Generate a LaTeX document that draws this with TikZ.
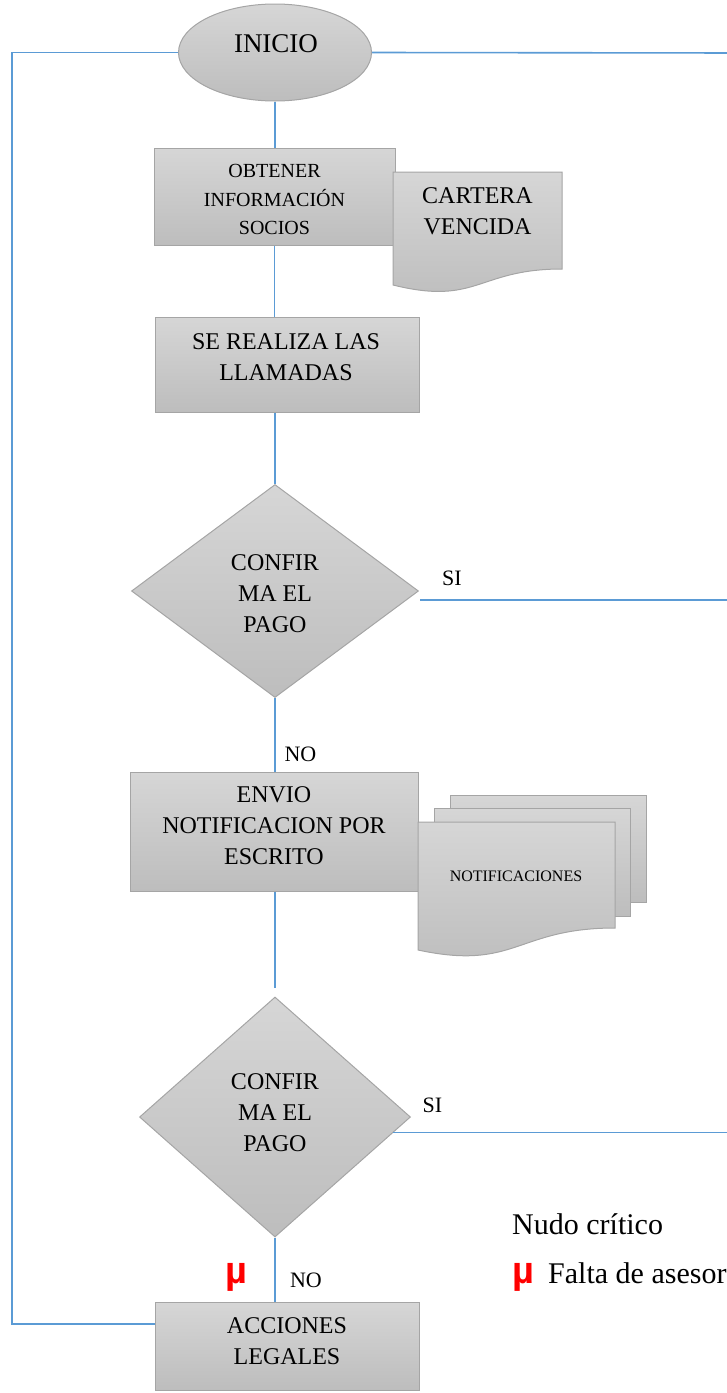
\documentclass[tikz,border=0pt]{standalone}
\usepackage{fontspec}
\setmainfont{Liberation Serif}
\newfontfamily\musans{Liberation Sans}
\usetikzlibrary{shapes.geometric,calc}

\definecolor{gtop}{RGB}{214,214,214}
\definecolor{gbot}{RGB}{189,189,189}
\definecolor{edgegray}{RGB}{165,165,165}
\definecolor{linkblue}{RGB}{91,155,213}
\definecolor{critred}{RGB}{255,0,0}

\begin{document}
\begin{tikzpicture}[x=1pt,y=-1pt,
  shapefill/.style={draw=edgegray, line width=1pt, top color=gtop, bottom color=gbot},
  procbox/.style={shapefill, rectangle, inner sep=0pt},
  decision/.style={shapefill, diamond, inner sep=0pt},
  link/.style={draw=linkblue, line width=1.6pt},
  txtmain/.style={align=center, inner sep=0pt, font=\fontsize{24}{31}\selectfont},
  txtsmall/.style={align=center, inner sep=0pt, font=\fontsize{20}{28.5}\selectfont},
  txtstart/.style={align=center, inner sep=0pt, font=\fontsize{27}{32}\selectfont},
  txtdoc/.style={align=center, inner sep=0pt, font=\fontsize{16}{20}\selectfont},
  branch/.style={inner sep=0pt, font=\fontsize{22}{26}\selectfont},
  legend/.style={inner sep=0pt, anchor=base west, font=\fontsize{30}{36}\selectfont},
  critmark/.style={inner sep=0pt, text=critred, font=\musans\bfseries\fontsize{38}{40}\selectfont}
]
\useasboundingbox (0,0) rectangle (727,1393);

% --- process shapes ---
\node[shapefill, ellipse, inner sep=0pt, minimum width=193pt, minimum height=97pt] (inicio) at (275,52.5) {};
\node[procbox, minimum width=241pt, minimum height=97pt] (obtener) at (274.5,196.5) {};
\node[procbox, minimum width=264pt, minimum height=95pt] (llamadas) at (287,364.5) {};
\node[decision, minimum width=287pt, minimum height=213pt] (d1) at (275,591) {};
\node[procbox, minimum width=288pt, minimum height=119pt] (envio) at (274,831.5) {};
\node[decision, minimum width=271pt, minimum height=240pt] (d2) at (275,1117) {};
\node[procbox, minimum width=264pt, minimum height=88pt] (acciones) at (287,1346) {};

% --- document: cartera vencida ---
\path[shapefill] (393,172) -- (562,172) -- (562,269)
  .. controls (477.5,269) and (477.5,306) .. (393,285) -- cycle;

% --- multi-document: notificaciones ---
\path[shapefill] (450,795) rectangle (646,902);
\path[shapefill] (434,808) rectangle (630,916);
\path[shapefill] (418,822) -- (615,822) -- (615,928)
  .. controls (516,928) and (516,971) .. (418,950) -- cycle;

% --- texts ---
\node[txtstart] (t-inicio) at (276,44) {INICIO};
\node[txtsmall] (t-obtener) at (274.5,199.5) {OBTENER\\INFORMACIÓN\\SOCIOS};
\node[txtmain] (t-cartera) at (477.5,211.5) {CARTERA\\VENCIDA};
\node[txtmain] (t-llamadas) at (286,357.5) {SE REALIZA LAS\\LLAMADAS};
\node[txtmain] (t-d1) at (275,594) {CONFIR\\MA EL\\PAGO};
\node[txtmain] (t-envio) at (274,826) {ENVIO\\NOTIFICACION POR\\ESCRITO};
\node[txtdoc] (t-notif) at (516,876) {NOTIFICACIONES};
\node[txtmain] (t-d2) at (275,1112.5) {CONFIR\\MA EL\\PAGO};
\node[txtmain] (t-acciones) at (287,1341.5) {ACCIONES\\LEGALES};

\node[branch] (si1) at (452,578) {SI};
\node[branch] (no1) at (300.5,754) {NO};
\node[branch] (si2) at (432.5,1105) {SI};
\node[branch] (no2) at (306,1280) {NO};
\node[critmark, anchor=base] (mu1) at (236.5,1283) {µ};

\node[legend] (leg-title) at (512,1234) {Nudo crítico};
\node[critmark, anchor=base west] (mu2) at (512,1283) {µ};
\node[legend] (leg-item) at (548,1283) {Falta de asesor};

% --- connectors ---
\coordinate (topright) at (745,53);
\coordinate (si1a) at (420,600);
\coordinate (si1b) at (745,600);
\coordinate (si2a) at ($(d2.east)!0.13!(d2.south)$);
\coordinate (si2b) at (745,1132);
\coordinate (loopin) at (155,1324);
\coordinate (gapend) at ([yshift=9pt]d2.north);

\draw[link] (inicio.east) -- (topright);
\draw[link] (inicio.south) -- (inicio.south |- obtener.north);
\draw[link] (obtener.south) -- (obtener.south |- llamadas.north);
\draw[link] (d1.north |- llamadas.south) -- (d1.north);
\draw[link] (si1a) -- (si1b);
\draw[link] (d1.south) -- (d1.south |- envio.north);
\draw[link] (gapend |- envio.south) -- (gapend);
\draw[link] (si2a) -- (si2a -| si2b);
\draw[link] (d2.south) -- (d2.south |- acciones.north);
\draw[link] (loopin) -- (12,1324) |- (inicio.west);
\end{tikzpicture}
\end{document}
